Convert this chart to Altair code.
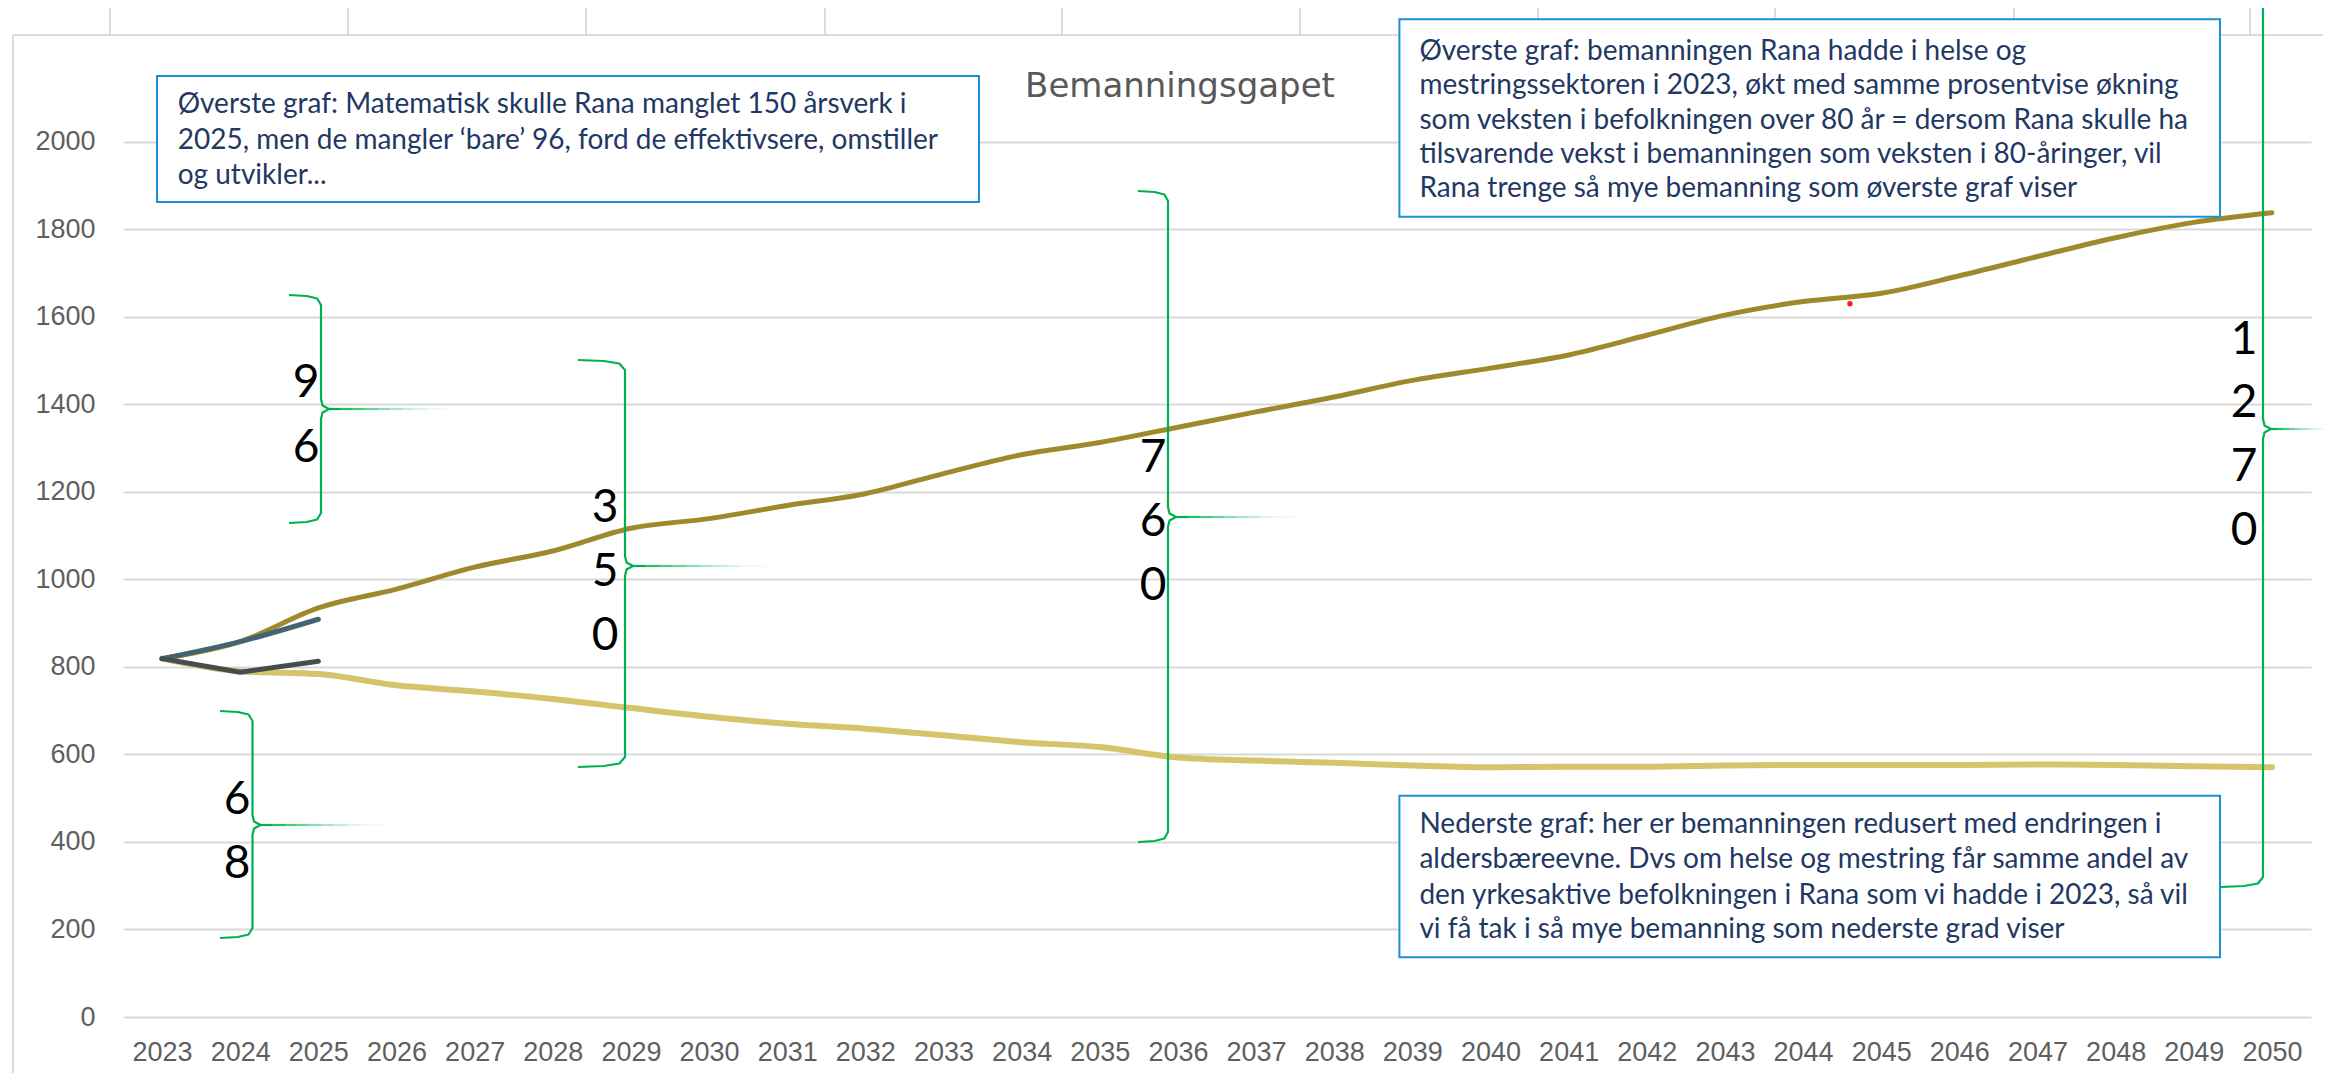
import altair as alt
import pandas as pd

# ---------------- data ----------------
years = list(range(2023, 2051))
overste = [819, 858, 935, 978, 1028, 1065, 1117, 1139, 1169, 1196, 1242, 1285, 1313, 1348,
           1383, 1417, 1455, 1483, 1513, 1558, 1604, 1635, 1654, 1694, 1738, 1781, 1816, 1838]
nederste = [819, 790, 784, 758, 744, 727, 706, 686, 670, 659, 644, 628, 617, 593,
            586, 581, 575, 571, 572, 572, 575, 576, 576, 576, 577, 576, 573, 571]
faktisk_years = [2023, 2024, 2025]
faktisk_ovre = [819, 858, 909]
faktisk_nedre = [819, 788, 813]
red_dot_year = [2044.6]
red_dot_value = [1630]
y_ticks = [0, 200, 400, 600, 800, 1000, 1200, 1400, 1600, 1800, 2000]

title_text = "Bemanningsgapet"
box1_lines = [
    "Øverste graf: Matematisk skulle Rana manglet 150 årsverk i",
    "2025, men de mangler \u2018bare\u2019 96, ford de effektivsere, omstiller",
    "og utvikler...",
]
box2_lines = [
    "Øverste graf: bemanningen Rana hadde i helse og",
    "mestringssektoren i 2023, økt med samme prosentvise økning",
    "som veksten i befolkningen over 80 år = dersom Rana skulle ha",
    "tilsvarende vekst i bemanningen som veksten i 80-åringer, vil",
    "Rana trenge så mye bemanning som øverste graf viser",
]
box3_lines = [
    "Nederste graf: her er bemanningen redusert med endringen i",
    "aldersbæreevne. Dvs om helse og mestring får samme andel av",
    "den yrkesaktive befolkningen i Rana som vi hadde i 2023, så vil",
    "vi få tak i så mye bemanning som nederste grad viser",
]
gap_labels = ["96", "350", "760", "68", "1270"]

# ---------------- layout ----------------
W, H = 2188, 1009
X0, X1 = 2022.5, 2050.5
Y0, Y1 = 0, 2306
PAGE, PAD_L, PAD_T = 8, 115, 0


def px_x(px):
    return X0 + (px - PAGE - PAD_L) / W * (X1 - X0)


def px_y(py):
    return Y0 + (PAGE + PAD_T + H - py) / H * (Y1 - Y0)


xs = alt.Scale(domain=[X0, X1], nice=False, zero=False)
ys = alt.Scale(domain=[Y0, Y1], nice=False, zero=False)
AX_FONT = "Liberation Sans"
xaxis = alt.Axis(values=years, format="d", labelFont=AX_FONT, labelFontSize=27,
                 labelColor="#5f5f5f", domain=False, ticks=False, tickSize=0, grid=False,
                 labelPadding=22, labelOverlap=False, labelFlush=False, title=None)
yaxis = alt.Axis(values=y_ticks, format="d", labelFont=AX_FONT, labelFontSize=27,
                 labelColor="#5f5f5f", domain=False, ticks=False, tickSize=0, grid=True,
                 gridColor="#d9d9d9", gridWidth=2, labelPadding=28, title=None)


def X(f):
    return alt.X(f, type="quantitative", scale=xs, axis=xaxis)


def Y(f):
    return alt.Y(f, type="quantitative", scale=ys, axis=yaxis)


# ---------------- background decoration (spreadsheet grid) ----------------
deco = []
for cx in [110, 348, 586, 825, 1062, 1300, 1538, 1775, 2014, 2250]:
    deco.append(dict(x=px_x(cx), x2=px_x(cx), y=px_y(0), y2=px_y(36)))
deco.append(dict(x=px_x(13), x2=px_x(13), y=px_y(35), y2=px_y(1081)))
deco.append(dict(x=px_x(13), x2=px_x(2331), y=px_y(35), y2=px_y(35)))
deco_layer = alt.Chart(pd.DataFrame(deco)).mark_rule(color="#dcdcdc", strokeWidth=2).encode(
    x=X("x"), x2="x2", y=Y("y"), y2="y2")

# ---------------- lines ----------------
df_up = pd.DataFrame({"year": years, "value": overste})
df_lo = pd.DataFrame({"year": years, "value": nederste})
df_fo = pd.DataFrame({"year": faktisk_years, "value": faktisk_ovre})
df_fn = pd.DataFrame({"year": faktisk_years, "value": faktisk_nedre})

lo_layer = alt.Chart(df_lo).mark_line(color="#d6c46c", strokeWidth=6, interpolate="monotone",
                                      strokeCap="round").encode(x=X("year"), y=Y("value"))
up_layer = alt.Chart(df_up).mark_line(color="#9e8a2c", strokeWidth=5, interpolate="monotone",
                                      strokeCap="round").encode(x=X("year"), y=Y("value"))
fo_layer = alt.Chart(df_fo).mark_line(color="#466373", strokeWidth=5, interpolate="monotone",
                                      strokeCap="round").encode(x=X("year"), y=Y("value"))
fn_layer = alt.Chart(df_fn).mark_line(color="#474d4f", strokeWidth=5, strokeCap="round",
                                      strokeJoin="round").encode(x=X("year"), y=Y("value"))
dot_layer = alt.Chart(pd.DataFrame({"year": red_dot_year, "value": red_dot_value})).mark_circle(
    color="#ff1a1a", size=30, opacity=1).encode(x=X("year"), y=Y("value"))

# ---------------- braces ----------------
braces = [  # id, vertical x, top, tip, bottom, curl left end, tail end (page px)
    ("b96", 321, 295, 409, 523, 289, 451),
    ("b350", 625, 360, 566, 767, 578, 767),
    ("b760", 1168, 191, 517, 842, 1138, 1297),
    ("b68", 252.5, 711, 825, 938, 220, 383),
    ("b1270", 2263, -29, 429, 887, 2221, 2331),
]
brace_rows, tail_rows = [], []
for bid, xl, top, mid, bot, left, tail in braces:
    w = xl - left
    pts = [(left, top), (left + 0.55 * w, top + 1.0), (xl - 0.12 * w, top + 3.5), (xl, top + 10),
           (xl, mid - 10), (xl + 1.5, mid - 3.5), (xl + 8, mid), (xl + 1.5, mid + 3.5),
           (xl, mid + 10), (xl, bot - 10), (xl - 0.12 * w, bot - 3.5),
           (left + 0.55 * w, bot - 1.0), (left, bot)]
    for i, (px, py) in enumerate(pts):
        brace_rows.append(dict(b=bid, i=i, x=px_x(px), y=px_y(py)))
    n = 10
    start = xl + 8
    L = tail - start
    for k in range(n):
        tail_rows.append(dict(x=px_x(start + k * L / n), x2=px_x(start + (k + 1) * L / n),
                              y=px_y(mid), o=max(0.04, (1 - k / n) ** 1.6)))
brace_layer = alt.Chart(pd.DataFrame(brace_rows)).mark_line(
    color="#00b050", strokeWidth=2.2, strokeJoin="round").encode(
    x=X("x"), y=Y("y"), detail="b:N", order=alt.Order("i:Q"))
tail_layer = alt.Chart(pd.DataFrame(tail_rows)).mark_rule(color="#00b050", strokeWidth=2.2).encode(
    x=X("x"), x2="x2", y=Y("y"), opacity=alt.Opacity("o:Q", scale=None))

# ---------------- stacked gap digits ----------------
digit_pos = {"96": (306, [380, 445]), "350": (605, [505, 569, 633]),
             "760": (1153, [455, 519, 583]), "68": (237, [797, 861]),
             "1270": (2244, [337, 400, 464, 528])}
digit_rows = []
for lab in gap_labels:
    cx, cys = digit_pos[lab]
    for ch, cy in zip(lab, cys):
        digit_rows.append(dict(x=px_x(cx), y=px_y(cy + 16.5), t=ch))
digit_layer = alt.Chart(pd.DataFrame(digit_rows)).mark_text(
    font="Lato", fontSize=46, color="#000000", align="center", baseline="alphabetic").encode(
    x=X("x"), y=Y("y"), text="t:N")

# ---------------- text boxes ----------------
boxes = [(157, 76, 979, 202), (1399.4, 19.3, 2220, 216.7), (1399.4, 795.7, 2220, 957.3)]
box_df = pd.DataFrame([dict(x=px_x(a), x2=px_x(c), y=px_y(b), y2=px_y(d)) for a, b, c, d in boxes])
box_layer = alt.Chart(box_df).mark_rect(fill="#ffffff", stroke="#1b8fd6", strokeWidth=2).encode(
    x=X("x"), x2="x2", y=Y("y"), y2="y2")

text_rows = []
for lines, left, bases in [(box1_lines, 177.7, [112.7, 148.5, 184]),
                           (box2_lines, 1419.4, [60, 94.3, 128.6, 163, 197.3]),
                           (box3_lines, 1419.4, [832.7, 868.3, 904, 938.3])]:
    for ln, b in zip(lines, bases):
        text_rows.append(dict(x=px_x(left), y=px_y(b), t=ln))
text_layer = alt.Chart(pd.DataFrame(text_rows)).mark_text(
    font="Lato", fontSize=28, color="#1f3864", align="left", baseline="alphabetic").encode(
    x=X("x"), y=Y("y"), text="t:N")

title_layer = alt.Chart(pd.DataFrame([dict(x=px_x(1180), y=px_y(96.7), t=title_text)])).mark_text(
    font="DejaVu Sans", fontSize=34, color="#595959", align="center", baseline="alphabetic").encode(
    x=X("x"), y=Y("y"), text="t:N")

chart = alt.layer(
    deco_layer, lo_layer, up_layer, fo_layer, fn_layer, dot_layer,
    brace_layer, tail_layer, digit_layer, box_layer, text_layer, title_layer,
).properties(
    width=W, height=H,
    autosize=alt.AutoSizeParams(type="none"),
    padding={"left": PAD_L, "top": PAD_T, "right": 12, "bottom": 56},
    background="#ffffff",
).configure_view(stroke=None)

chart.save("out.html", embed_options={"renderer": "svg", "actions": False})
